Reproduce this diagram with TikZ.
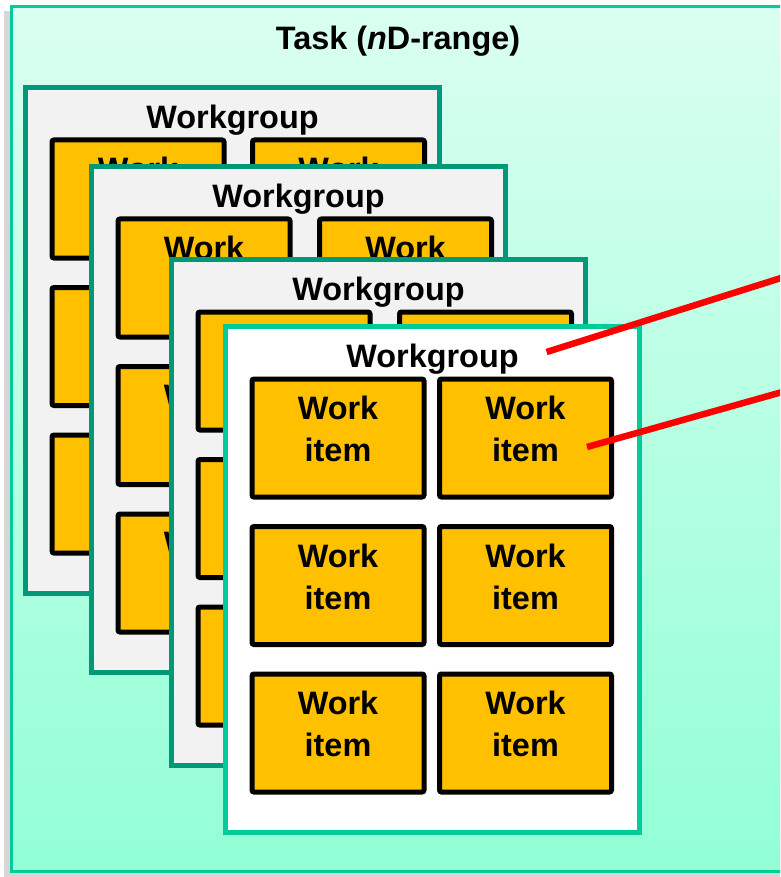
\documentclass[tikz,border=0pt]{standalone}
\usepackage{fontspec}
\setmainfont{Liberation Sans}
\definecolor{mintTop}{HTML}{DAFFF0}
\definecolor{mintBot}{HTML}{92FFD6}
\definecolor{tealDark}{HTML}{009977}
\definecolor{tealLight}{HTML}{00CC99}
\definecolor{wgGray}{HTML}{F2F2F2}
\definecolor{itemGold}{HTML}{FFC000}
\definecolor{shadowGray}{HTML}{D6D6D6}
\tikzset{
  taskbox/.style={draw=tealLight, line width=3pt, top color=mintTop, bottom color=mintBot, inner sep=0, anchor=north west},
  wgback/.style={draw=tealDark, line width=5pt, fill=wgGray},
  wgfront/.style={draw=tealLight, line width=5pt, fill=white},
  itembox/.style={draw=black, line width=5pt, fill=itemGold, rounded corners=2pt, minimum width=172pt, minimum height=118pt, inner sep=0, anchor=north west},
  itemtext/.style={font=\fontsize{32.4}{42}\selectfont\bfseries, align=center, inner sep=0, outer sep=0, anchor=north},
  wglabel/.style={font=\fontsize{32.4}{38}\selectfont\bfseries, inner sep=0, outer sep=0, anchor=base},
  titletext/.style={font=\fontsize{32.4}{38}\selectfont\bfseries, inner sep=0, outer sep=0, anchor=base},
  redline/.style={draw=red, line width=6.5pt},
}
% #1 name, #2 x, #3 y (outer top-left), #4 right column offset, #5 style
\newcommand{\workgroup}[5]{%
  \node[#5, minimum width=414pt, minimum height=506pt, anchor=north west, inner sep=0] (#1) at (#2,#3) {};
  \node[wglabel] (#1-label) at (#2+209.5,#3+43.5) {Workgroup};
  \foreach \r in {0,1,2} {
    \foreach \c/\cx in {0/26.5,1/#4} {
      \node[itembox] (#1-\r-\c) at (#2+\cx,#3+52.5+147.5*\r) {};
      \node[itemtext] (#1-t-\r-\c) at ([yshift=-20pt]#1-\r-\c.north) {Work\\item};
    }
  }
}
\begin{document}
\begin{tikzpicture}[x=1pt,y=-1pt]
  \useasboundingbox (0,0) rectangle (780,877);
  \clip (0,0) rectangle (780,877);
  \fill[shadowGray] (4,11) rectangle (800,877);
  \node[taskbox, minimum width=800pt, minimum height=865pt] (task) at (10,5) {};
  \node[titletext] (title) at (398,50) {Task (\textit{n}D-range)};
  \workgroup{wgA}{23}{85}{227}{wgback}
  \workgroup{wgB}{89}{164}{228}{wgback}
  \workgroup{wgC}{169}{257}{228}{wgback}
  \workgroup{wgD}{223}{324}{214}{wgfront}
  \coordinate (endA) at (800,272);
  \coordinate (endB) at (800,387);
  \draw[redline] ([xshift=28pt,yshift=15.5pt]wgD-label.base east) -- (endA);
  \draw[redline] ([xshift=61.5pt,yshift=-9pt]wgD-0-1.center) -- (endB);
\end{tikzpicture}
\end{document}
